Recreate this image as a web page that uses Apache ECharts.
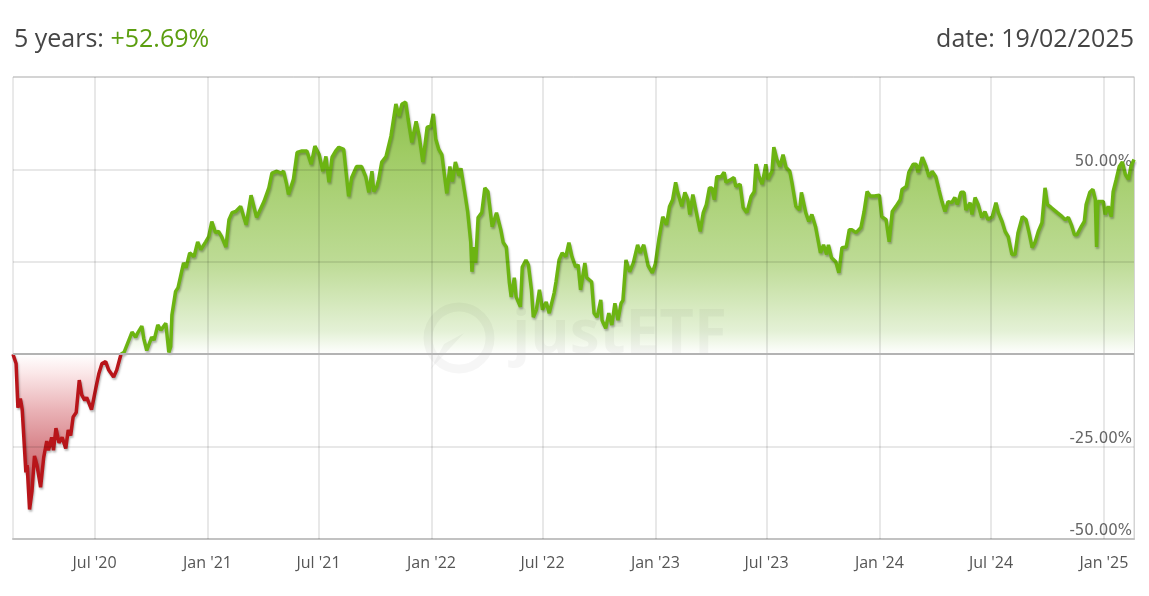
<!DOCTYPE html>
<html><head><meta charset="utf-8">
<script src="https://cdn.jsdelivr.net/npm/echarts@6/dist/echarts.min.js"></script>
<style>html,body{margin:0;padding:0;background:#fff}#c{width:1149px;height:596px}</style>
</head><body><div id="c"></div>
<script>
const periodLabel = '5 years: ';
const periodReturn = '+52.69%';
const dateLabel = 'date: 19/02/2025';
const rangeStart = '2020-02-19';
const rangeEnd = '2025-02-19';
const xTickDates = ['2020-07-01','2021-01-01','2021-07-01','2022-01-01','2022-07-01','2023-01-01','2023-07-01','2024-01-01','2024-07-01','2025-01-01'];
const xTickLabels = ["Jul '20","Jan '21","Jul '21","Jan '22","Jul '22","Jan '23","Jul '23","Jan '24","Jul '24","Jan '25"];
const yGridValues = [-25, 25, 50, 75];

const dates = [
'2020-02-19','2020-02-24','2020-02-27','2020-03-02','2020-03-05','2020-03-11','2020-03-13','2020-03-17','2020-03-21','2020-03-25',
'2020-03-29','2020-04-04','2020-04-09','2020-04-14','2020-04-17','2020-04-22','2020-04-25','2020-04-29','2020-05-04','2020-05-09',
'2020-05-15','2020-05-19','2020-05-23','2020-05-27','2020-06-01','2020-06-06','2020-06-10','2020-06-15','2020-06-18','2020-06-26',
'2020-07-03','2020-07-08','2020-07-13','2020-07-19','2020-07-24','2020-08-01','2020-08-06','2020-08-13','2020-08-18','2020-08-21',
'2020-08-31','2020-09-06','2020-09-09','2020-09-16','2020-09-19','2020-09-24','2020-10-02','2020-10-06','2020-10-12','2020-10-17',
'2020-10-25','2020-10-30','2020-11-02','2020-11-04','2020-11-10','2020-11-14','2020-11-18','2020-11-23','2020-11-27','2020-12-03',
'2020-12-10','2020-12-16','2020-12-21','2020-12-29','2021-01-03','2021-01-08','2021-01-14','2021-01-19','2021-01-24','2021-01-31',
'2021-02-05','2021-02-10','2021-02-16','2021-02-24','2021-03-01','2021-03-05','2021-03-13','2021-03-22','2021-04-03','2021-04-11',
'2021-04-16','2021-04-24','2021-05-01','2021-05-05','2021-05-10','2021-05-13','2021-05-21','2021-05-27','2021-06-04','2021-06-12',
'2021-06-19','2021-06-25','2021-07-02','2021-07-08','2021-07-13','2021-07-18','2021-07-23','2021-07-29','2021-08-03','2021-08-11',
'2021-08-19','2021-08-24','2021-09-01','2021-09-09','2021-09-16','2021-09-21','2021-09-26','2021-09-29','2021-10-04','2021-10-07',
'2021-10-12','2021-10-19','2021-10-27','2021-11-04','2021-11-09','2021-11-14','2021-11-20','2021-11-24','2021-11-30','2021-12-07',
'2021-12-12','2021-12-18','2021-12-25','2021-12-31','2022-01-04','2022-01-08','2022-01-13','2022-01-18','2022-01-26','2022-01-31',
'2022-02-04','2022-02-09','2022-02-15','2022-02-18','2022-02-24','2022-03-01','2022-03-06','2022-03-08','2022-03-11','2022-03-14',
'2022-03-18','2022-03-24','2022-03-29','2022-04-03','2022-04-10','2022-04-17','2022-04-24','2022-04-28','2022-05-03','2022-05-08',
'2022-05-11','2022-05-16','2022-05-19','2022-05-26','2022-05-29','2022-06-04','2022-06-08','2022-06-13','2022-06-16','2022-06-21',
'2022-06-26','2022-07-01','2022-07-07','2022-07-12','2022-07-20','2022-07-23','2022-07-28','2022-08-02','2022-08-08','2022-08-13',
'2022-08-18','2022-08-24','2022-08-28','2022-09-01','2022-09-08','2022-09-11','2022-09-19','2022-09-23','2022-09-28','2022-10-04',
'2022-10-06','2022-10-12','2022-10-17','2022-10-22','2022-10-27','2022-11-01','2022-11-06','2022-11-09','2022-11-14','2022-11-20',
'2022-11-26','2022-12-03','2022-12-07','2022-12-13','2022-12-20','2022-12-27','2023-01-01','2023-01-07','2023-01-13','2023-01-19',
'2023-01-24','2023-01-29','2023-02-03','2023-02-06','2023-02-13','2023-02-18','2023-02-23','2023-02-26','2023-03-03','2023-03-08',
'2023-03-15','2023-03-20','2023-03-25','2023-03-30','2023-04-03','2023-04-07','2023-04-11','2023-04-18','2023-04-23','2023-04-26',
'2023-05-04','2023-05-09','2023-05-12','2023-05-19','2023-05-24','2023-05-30','2023-06-06','2023-06-11','2023-06-14','2023-06-19',
'2023-06-24','2023-06-30','2023-07-03','2023-07-10','2023-07-13','2023-07-18','2023-07-23','2023-07-28','2023-08-02','2023-08-08',
'2023-08-12','2023-08-18','2023-08-24','2023-08-27','2023-09-03','2023-09-08','2023-09-13','2023-09-19','2023-09-27','2023-10-02',
'2023-10-07','2023-10-10','2023-10-15','2023-10-22','2023-10-27','2023-11-01','2023-11-08','2023-11-13','2023-11-17','2023-11-24',
'2023-12-02','2023-12-07','2023-12-12','2023-12-17','2023-12-24','2024-01-01','2024-01-05','2024-01-12','2024-01-17','2024-01-22',
'2024-01-28','2024-02-04','2024-02-07','2024-02-14','2024-02-18','2024-02-25','2024-03-01','2024-03-04','2024-03-11','2024-03-17',
'2024-03-22','2024-03-27','2024-04-02','2024-04-07','2024-04-12','2024-04-17','2024-04-22','2024-04-28','2024-05-03','2024-05-07',
'2024-05-13','2024-05-18','2024-05-21','2024-05-28','2024-05-31','2024-06-05','2024-06-10','2024-06-16','2024-06-21','2024-06-26',
'2024-07-03','2024-07-09','2024-07-13','2024-07-19','2024-07-24','2024-07-29','2024-08-04','2024-08-09','2024-08-14','2024-08-21',
'2024-08-27','2024-09-01','2024-09-06','2024-09-11','2024-09-16','2024-09-22','2024-09-27','2024-10-01','2024-10-07','2024-10-12',
'2024-10-17','2024-10-25','2024-10-30','2024-11-04','2024-11-09','2024-11-14','2024-11-18','2024-11-25','2024-11-30','2024-12-03',
'2024-12-09','2024-12-14','2024-12-18','2024-12-20','2024-12-22','2024-12-31','2025-01-03','2025-01-08','2025-01-13','2025-01-16',
'2025-01-21','2025-01-26','2025-01-31','2025-02-05','2025-02-10','2025-02-14','2025-02-19'
];
const values = [
0,-2.5,-14.5,-12,-15,-32,-30,-42,-37,-27.5,
-30,-36,-28,-23.5,-26,-22.5,-26,-20,-24,-22.5,
-25.5,-20.5,-22,-17,-15.8,-7,-11,-12.5,-11.7,-15,
-9.2,-5.2,-2.5,-2,-4.3,-6.2,-4.3,0,0.5,1,
6,4.6,5.7,7.6,4.3,1,4.6,3.8,7.9,6.5,
8.4,0.5,2,10.6,17,18,21,24.7,23.4,27.4,
26.4,30.4,28.3,30.4,31.8,35.9,32.9,33.2,31.8,29,
36.4,38.3,38.6,40,37.2,35,43,37,41.3,45,
49,49.5,49,49.5,46,43.2,47.3,54.6,55,55,
51.4,56.3,54,49.5,53.5,46.5,53.3,55,56,55.4,
42.7,47.8,50.8,50.8,48,43.8,49.5,44,45.4,47.3,
52,53.5,59,67.7,64.4,67.7,68.2,63.6,57.3,63,
59,52,61.4,61.7,65,58.2,55.4,54,43.5,50.8,
46.7,52,48.3,50.3,44,38.6,30.4,22.3,29,24.7,
37,38.3,45,44,34.5,38.3,33.7,30.2,29,19.3,
15.5,20.7,15.5,12.8,23.6,25.5,24.2,17.4,10,12,
17.4,12,14.1,11.1,16.6,19.6,25.5,27.4,26.4,30.2,
26.4,23.6,24.2,17.4,24.7,20.7,19.6,11.1,10,14.7,
9.2,7,11.1,7.9,13.8,9.2,13.8,14.5,25.5,22.3,
24.7,29.6,27.4,29.6,24,22,24.5,31.5,37.2,35,
40,41.8,46.5,44,40,43.8,41.8,37.8,43.2,39,
33.2,38.3,40.5,45,45,41.8,48,48,49.2,46.5,
47.3,47.8,45.4,46,39.7,38.3,42.7,44,51.4,48,
46,51.4,47.3,49.5,56,52.7,50.8,54,50.5,49.5,
46,40,39,43.8,38.3,35.9,37.8,34.5,27.4,29.6,
27,29.6,26.1,25,22,28.8,29,33.7,33.7,32.9,
34.3,38.5,44,42.8,42.8,43,37.2,36.4,30.4,38.6,
40,41.8,44.6,45.4,49.2,51.4,51.4,49.2,53.3,50.8,
48,49.5,48,44.6,41.3,38.6,41.3,41,42.4,40.5,
43.8,43.8,39,41,37.8,42.4,40.5,37,38.6,36.4,
37.2,41,38.3,35.9,33.2,31.8,27,27,32.9,37.2,
36.4,32.9,28.8,30.4,33.2,35.6,45,40.5,39.7,39,
38.3,37.2,36.4,37,35,32.3,32.3,34.5,35.9,40.5,
43.8,44.6,41.8,29,41.3,41.3,37.8,40,37.2,44,
47.3,50.8,52,48.6,47.3,50.8,52.69
];

function ts(s) { const p = s.split('-').map(Number); return new Date(p[0], p[1] - 1, p[2]).getTime(); }
const seriesData = dates.map((d, i) => [ts(d), values[i]]);
const tickTimes = xTickDates.map(ts);

const GRID_TOP = 77, GRID_BOTTOM_PX = 539;
const Y_MIN = -50, Y_MAX = 75;
const zeroOffset = (Y_MAX - 0) / (Y_MAX - Y_MIN);
const chart = echarts.init(document.getElementById('c'), null, { renderer: 'canvas' });

const areaGradient = new echarts.graphic.LinearGradient(0, GRID_TOP, 0, GRID_BOTTOM_PX, [
  { offset: 0, color: '#86bc44' },
  { offset: 0.05, color: '#8cbf4c' },
  { offset: 0.16, color: '#9fcb63' },
  { offset: 0.40, color: '#bddb95' },
  { offset: 0.55, color: '#e4f1d6' },
  { offset: zeroOffset, color: '#ffffff' },
  { offset: 0.64, color: '#fbe8e9' },
  { offset: 0.72, color: '#eab3b7' },
  { offset: 0.80, color: '#d8858b' },
  { offset: 1, color: '#bb3a41' }
], true);
const lineGradient = new echarts.graphic.LinearGradient(0, GRID_TOP, 0, GRID_BOTTOM_PX, [
  { offset: 0, color: '#6cb412' },
  { offset: zeroOffset, color: '#6cb412' },
  { offset: zeroOffset, color: '#b8151a' },
  { offset: 1, color: '#b8151a' }
], true);

const gridLineStyle = { color: 'rgba(0,0,0,0.09)', width: 2, type: 'solid' };
const labelStyle = { show: true, position: 'start', distance: 16, color: '#555', fontFamily: 'Open Sans', fontSize: 16 };
const markData = [];
tickTimes.forEach((t, i) => markData.push({ xAxis: t, lineStyle: gridLineStyle,
  label: Object.assign({}, labelStyle, { formatter: xTickLabels[i] }) }));
yGridValues.forEach(v => markData.push({ yAxis: v, lineStyle: gridLineStyle, label: { show: false } }));
markData.push({ yAxis: 0, lineStyle: { color: '#b3b3b3', width: 2, type: 'solid' }, label: { show: false } });

chart.setOption({
  animation: false,
  backgroundColor: '#ffffff',
  title: [
    { left: 14, top: 27, padding: 0, text: '{a|' + periodLabel + '}{b|' + periodReturn + '}',
      textStyle: { rich: {
        a: { fontFamily: 'Open Sans', fontSize: 25, color: '#454545', fontWeight: 'normal' },
        b: { fontFamily: 'Open Sans', fontSize: 25, color: '#5c9e10', fontWeight: 'normal' } } } },
    { right: 15, top: 27, padding: 0, text: dateLabel,
      textStyle: { fontFamily: 'Open Sans', fontSize: 25, color: '#454545', fontWeight: 'normal' } }
  ],
  grid: { left: 13, right: 15, top: GRID_TOP, bottom: 596 - GRID_BOTTOM_PX, show: true, borderColor: '#d4d4d4', borderWidth: 1 },
  xAxis: {
    type: 'time', min: ts(rangeStart), max: ts(rangeEnd),
    axisLine: { onZero: false, lineStyle: { color: '#c2c2c2', width: 2 } },
    axisTick: { show: false },
    splitLine: { show: false },
    axisLabel: { show: false }
  },
  yAxis: {
    type: 'value', position: 'right', min: Y_MIN, max: Y_MAX, interval: 25,
    axisLine: { show: true, lineStyle: { color: '#d4d4d4', width: 1 } },
    axisTick: { show: false },
    splitLine: { show: false },
    axisLabel: {
      inside: true, showMaxLabel: false, margin: 2, verticalAlign: 'bottom',
      formatter: v => v.toFixed(2) + '%',
      color: '#666', fontFamily: 'DejaVu Sans', fontSize: 15
    }
  },
  graphic: [
    { type: 'circle', z: 3, silent: true, shape: { cx: 459, cy: 338, r: 31 }, style: { fill: 'none', stroke: 'rgba(0,0,0,0.035)', lineWidth: 9 } },
    { type: 'polygon', z: 3, silent: true, shape: { points: [[430, 370], [464, 333], [444, 344]] }, style: { fill: 'rgba(0,0,0,0.035)' } },
    { type: 'text', z: 3, silent: true, left: 512, top: 306, style: { text: 'justETF', fontFamily: 'Open Sans', fontWeight: 'bold', fontSize: 60, fill: 'rgba(0,0,0,0.035)' } }
  ],
  series: [
    { type: 'line', z: 1, silent: true, data: seriesData, showSymbol: false, symbol: 'none',
      lineStyle: { width: 0, opacity: 0 }, areaStyle: { color: areaGradient, opacity: 1 } },
    { type: 'line', z: 2, silent: true, data: seriesData, showSymbol: false, symbol: 'none',
      lineStyle: { width: 0, opacity: 0 },
      markLine: { silent: true, symbol: ['none', 'none'], animation: false, data: markData } },
    { type: 'line', z: 4, silent: true, data: seriesData, showSymbol: false, symbol: 'none',
      lineStyle: { width: 3.5, color: lineGradient, shadowColor: 'rgba(0,0,0,0.28)', shadowBlur: 2, shadowOffsetX: 1, shadowOffsetY: 2 } }
  ]
});
</script></body></html>
